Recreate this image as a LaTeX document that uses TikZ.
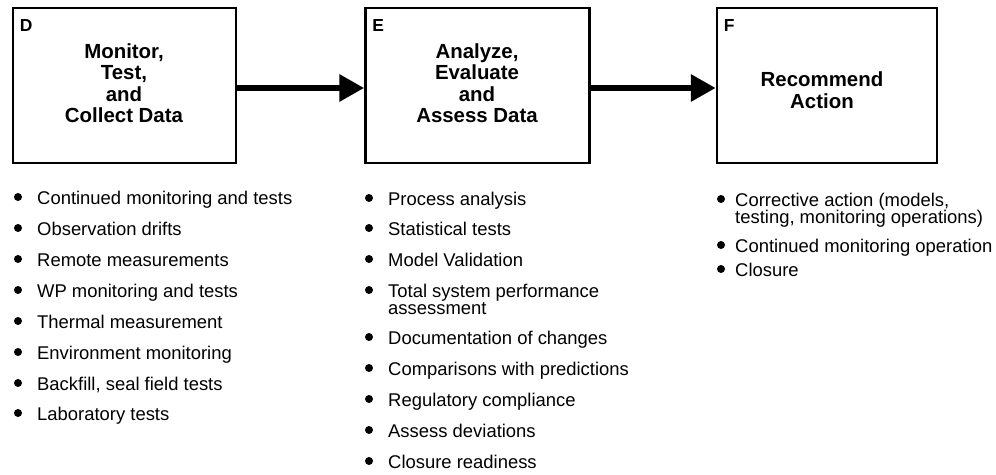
\documentclass[tikz,border=0pt]{standalone}
\usepackage{fontspec}
\setmainfont{Liberation Sans}
\usetikzlibrary{positioning, arrows.meta}

\tikzset{
  stage/.style={draw, line width=2.5pt, minimum height=155bp, inner sep=0pt},
  tag/.style={font=\fontsize{17.5}{17.5}\selectfont\bfseries, inner sep=0pt, anchor=west},
  title/.style={font=\fontsize{20.5}{21.5}\selectfont\bfseries, align=center, inner sep=0pt},
  item/.style={font=\fontsize{18.5}{17}\selectfont, inner sep=0pt, anchor=west, text height=15.4bp, text depth=0pt},
  dot/.style={fill=black},
  flow/.style={line width=6.5pt, -{Triangle[length=25bp, width=26bp]}},
}

\begin{document}
\begin{tikzpicture}[x=1bp, y=-1bp]
  \useasboundingbox (0,0) rectangle (996,475);

  % the three stages
  \node[stage, minimum width=223bp] (D) at (124.5,85.5) {};
  \node[stage, minimum width=224bp, right=127bp of D] (E) {};
  \node[stage, minimum width=220bp, right=125bp of E] (F) {};

  \node[tag] (Dtag) at ([shift={(8,19)}]D.north west) {D};
  \node[tag] (Etag) at ([shift={(8,19)}]E.north west) {E};
  \node[tag] (Ftag) at ([shift={(8,19)}]F.north west) {F};

  \node[title] (Dtitle) at (124,83) {Monitor,\\Test,\\and\\Collect Data};
  \node[title] (Etitle) at (477,83) {Analyze,\\Evaluate\\and\\Assess Data};
  \node[title] (Ftitle) at (822,90) {Recommend\\Action};

  % arrows between stages
  \draw[flow] ([yshift=-2.5bp]D.east) -- ([yshift=-2.5bp]E.west);
  \draw[flow] ([yshift=-2.5bp]E.east) -- ([yshift=-2.5bp]F.west);

  % bullet lists
  \foreach \y/\txt in {197/Continued monitoring and tests, 228/Observation drifts,
      259/Remote measurements, 290/WP monitoring and tests, 321/Thermal measurement,
      352/Environment monitoring, 383/{Backfill, seal field tests}, 413/Laboratory tests}
  {
    \fill[dot] (18,\y) circle[radius=4bp];
    \node[item] at (37,\y) {\txt};
  }

  \foreach \y in {198,228,259,290,337,368,399,430,461}
    \fill[dot] (369,\y) circle[radius=4bp];
  \foreach \y/\txt in {198/Process analysis, 228/Statistical tests, 259/Model Validation,
      290/Total system performance, 307.3/assessment, 337/Documentation of changes,
      368/Comparisons with predictions, 399/Regulatory compliance,
      430/Assess deviations, 461/Closure readiness}
    \node[item] at (388,\y) {\txt};

  \foreach \y in {199,245,269}
    \fill[dot] (721,\y) circle[radius=4bp];
  \foreach \y/\txt in {199/{Corrective action (models,}, 216.3/{testing, monitoring operations)},
      245/Continued monitoring operation, 269/Closure}
    \node[item] at (735,\y) {\txt};
\end{tikzpicture}
\end{document}
